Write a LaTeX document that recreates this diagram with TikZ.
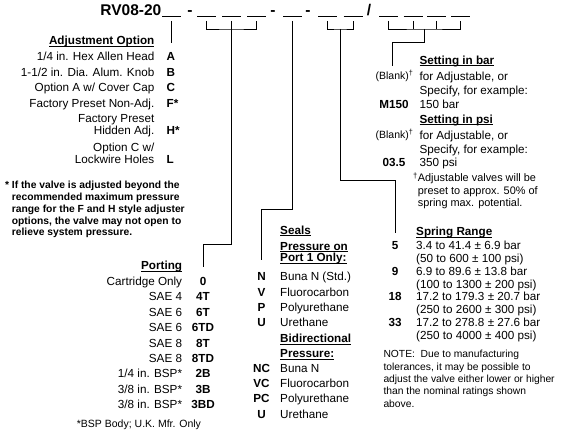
\documentclass[tikz,border=0pt]{standalone}
\usepackage{fontspec}
\setmainfont{Liberation Sans}
\newcommand\ulhead[1]{\setbox0\hbox{#1}\rlap{\rule[-2.2pt]{\wd0}{0.9pt}}\box0}
\begin{document}
\begin{tikzpicture}[
    x=1pt, y=-1pt,
    conn/.style={line width=0.9pt},
    body/.style={inner sep=0pt, font=\fontsize{11.7}{12}\selectfont},
    lab/.style={body, anchor=base east},
    txt/.style={body, anchor=base west},
    code/.style={body, font=\fontsize{11.7}{12}\selectfont\bfseries},
    head/.style={code, anchor=base west},
    note/.style={inner sep=0pt, anchor=base west, align=left},
    ttl/.style={inner sep=0pt, anchor=base, font=\fontsize{15.5}{16}\selectfont\bfseries}
  ]
  \useasboundingbox (0,0) rectangle (561,435);

  % model code with blanks
  \node[ttl, anchor=base east] (title) at (161.5,16) {RV08-20};
  \foreach \n/\x in {1/171.7, 2/206.5, 3/231.5, 4/256.5, 5/292.5, 6/327.5, 7/353,
                     8/388.5, 9/413, 10/436.5, 11/460.5} {
    \draw[conn] (\x-9.5,16.6) -- (\x+9.5,16.6);
    \coordinate (u\n) at (\x,21);
  }
  \foreach \x [count=\i] in {190,273,308}
    \node[ttl] (dash\i) at (\x,16) {-};
  \node[ttl] (slash) at (369,16) {/};

  % brackets and leads
  \coordinate (j2) at (231.5,29);
  \coordinate (j6) at (340.25,29);
  \coordinate (j8) at (424.5,29);
  \coordinate (eAdj) at (171.7,43);
  \coordinate (ePort) at (203.3,267);
  \coordinate (eSeal) at (261.7,260);
  \coordinate (eSpring) at (395.5,233);
  \coordinate (eSet) at (392.3,66);
  \draw[conn] (u1) -- (eAdj);
  \draw[conn] (u2) |- (j2) -| (u4);
  \draw[conn] (u3) -- ++(0,223.3) -| (ePort);
  \draw[conn] (u5) -- ++(0,188) -| (eSeal);
  \draw[conn] (u6) |- (j6) -| (u7);
  \draw[conn] (j6) -- ++(0,151.5) -| (eSpring);
  \draw[conn] (u8) |- (j8) -| (u11);
  \draw[conn] (u9) -- (u9 |- j8);
  \draw[conn] (u10) -- (u10 |- j8);
  \draw[conn] (j8) -- ++(0,13) -| (eSet);

  % adjustment option
  \node[code, anchor=base east] (adjHead) at (154.5,45) {\ulhead{Adjustment Option}};
  \foreach \lab/\y [count=\i] in {{1/4 in. Hex Allen Head}/61, {1-1/2 in. Dia. Alum. Knob}/76.5,
      {Option A w/ Cover Cap}/92, {Factory Preset Non-Adj.}/107.5, Factory Preset/123,
      Hidden Adj./135, {Option C w/}/151.5, Lockwire Holes/164}
    \node[lab] (adjL\i) at (154.5,\y) {\lab};
  \foreach \c/\y [count=\i] in {A/61, B/76.5, C/92, F*/107.5, H*/135, L/164}
    \node[code, anchor=base west] (adjC\i) at (166.5,\y) {\c};
  % (base of a multi-line node = its last line)
  \node[note, font=\fontsize{10.3}{11.8}\selectfont\bfseries] (adjNote) at (11.7,235.9)
    {\llap{* }If the valve is adjusted beyond the\\recommended maximum pressure\\range for the F and H style adjuster\\options, the valve may not open to\\relieve system pressure.};

  % porting
  \node[code, anchor=base east] (portHead) at (182.3,269.2) {\ulhead{Porting}};
  \foreach \lab/\c [count=\i from 0] in {Cartridge Only/0, SAE 4/4T, SAE 6/6T, SAE 6/6TD,
      SAE 8/8T, SAE 8/8TD, {1/4 in. BSP*}/2B, {3/8 in. BSP*}/3B, {3/8 in. BSP*}/3BD} {
    \node[lab] (portL\i) at (182.3,285.2+15.45*\i) {\lab};
    \node[code, anchor=base] (portC\i) at (203,285.2+15.45*\i) {\c};
  }
  \node[note, font=\fontsize{10.5}{12}\selectfont] (portNote) at (76.7,427) {*BSP Body; U.K. Mfr. Only};

  % seals
  \node[head] (sealHead) at (280,234.2) {\ulhead{Seals}};
  \node[head] (oneA) at (280,250.2) {\ulhead{Pressure on}};
  \node[head] (oneB) at (280,261.9) {\ulhead{Port 1 Only:}};
  \foreach \c/\lab [count=\i from 0] in {N/Buna N (Std.), V/Fluorocarbon, P/Polyurethane, U/Urethane} {
    \node[code, anchor=base] (sealC\i) at (261.5,280.9+15.2*\i) {\c};
    \node[txt] (sealL\i) at (280,280.9+15.2*\i) {\lab};
  }
  \node[head] (biA) at (280,342.5) {\ulhead{Bidirectional}};
  \node[head] (biB) at (280,357.5) {\ulhead{Pressure:}};
  \foreach \c/\lab [count=\i from 0] in {NC/Buna N, VC/Fluorocarbon, PC/Polyurethane, U/Urethane} {
    \node[code, anchor=base] (biC\i) at (261.5,372.5+15.2*\i) {\c};
    \node[txt] (biL\i) at (280,372.5+15.2*\i) {\lab};
  }

  % setting
  \node[head] (barHead) at (419.3,64.2) {\ulhead{Setting in bar}};
  \node[inner sep=0pt, anchor=base, font=\fontsize{10.5}{12}\selectfont] (blankBar) at (394.5,79.8) {(Blank)\textsuperscript{†}};
  \node[txt] (barA) at (419.3,80.2) {for Adjustable, or};
  \node[txt] (barB) at (419.3,94.2) {Specify, for example:};
  \node[code, anchor=base] (barC) at (394,108.5) {M150};
  \node[txt] (barD) at (419.3,108.5) {150 bar};
  \node[head] (psiHead) at (419.3,123.2) {\ulhead{Setting in psi}};
  \node[inner sep=0pt, anchor=base, font=\fontsize{10.5}{12}\selectfont] (blankPsi) at (394.5,138.8) {(Blank)\textsuperscript{†}};
  \node[txt] (psiA) at (419.3,139.2) {for Adjustable, or};
  \node[txt] (psiB) at (419.3,153.2) {Specify, for example:};
  \node[code, anchor=base] (psiC) at (394,166.5) {03.5};
  \node[txt] (psiD) at (419.3,166.5) {350 psi};
  \node[note, font=\fontsize{10.9}{12.5}\selectfont] (setNote) at (417.7,207)
    {\llap{\textsuperscript{†}}Adjustable valves will be\\preset to approx. 50\% of\\spring max. potential.};

  % spring range
  \node[head] (springHead) at (416,235.9) {\ulhead{Spring Range}};
  \foreach \c/\a/\b [count=\i from 0] in {5/{3.4 to 41.4 ± 6.9 bar}/{(50 to 600 ± 100 psi)},
      9/{6.9 to 89.6 ± 13.8 bar}/{(100 to 1300 ± 200 psi)},
      18/{17.2 to 179.3 ± 20.7 bar}/{(250 to 2600 ± 300 psi)},
      33/{17.2 to 278.8 ± 27.6 bar}/{(250 to 4000 ± 400 psi)}} {
    \node[code, anchor=base] (springC\i) at (395,249.9+25.5*\i) {\c};
    \node[txt] (springA\i) at (416,249.9+25.5*\i) {\a};
    \node[txt] (springB\i) at (416,262.65+25.5*\i) {\b};
  }
  \node[note, font=\fontsize{10.3}{12.33}\selectfont] (tolNote) at (383.3,407)
    {NOTE:\ \ Due to manufacturing\\tolerances, it may be possible to\\adjust the valve either lower or higher\\than the nominal ratings shown\\above.};
\end{tikzpicture}
\end{document}
